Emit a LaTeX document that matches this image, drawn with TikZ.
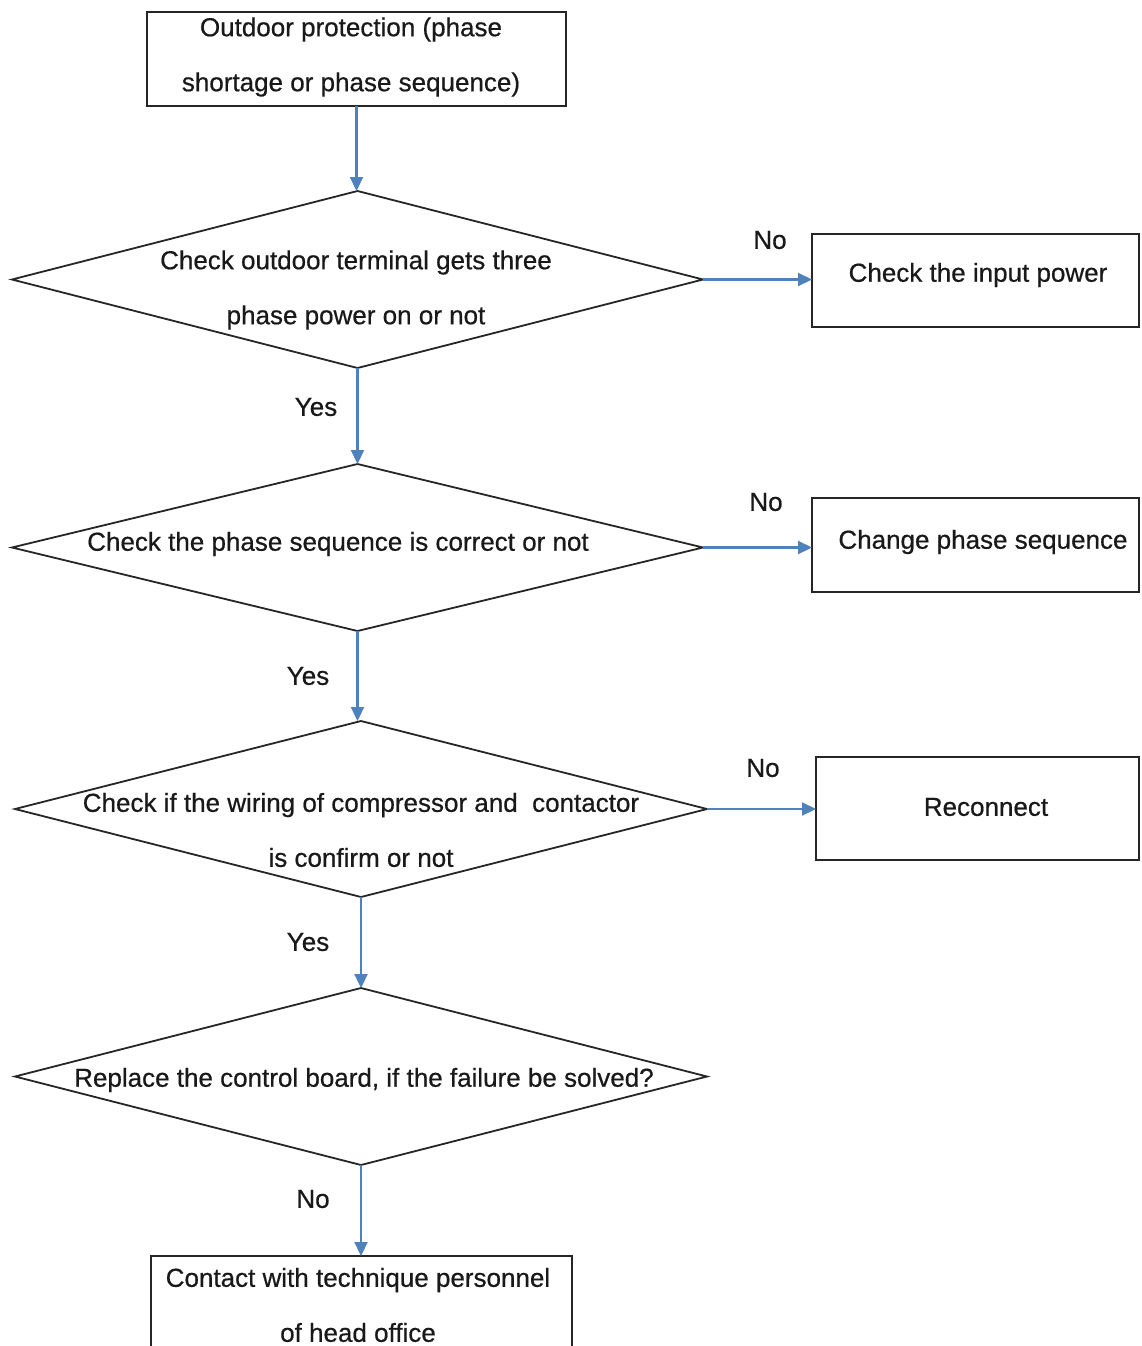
\documentclass[tikz,border=0pt]{standalone}
\usepackage{fontspec}
\setmainfont[FakeBold=0.6]{Liberation Sans}
\usetikzlibrary{shapes.geometric,arrows.meta}
\definecolor{flowblue}{RGB}{79,129,189}
\tikzset{
  every node/.style={font=\fontsize{26}{55}\selectfont},
  procbox/.style={draw=black!85, line width=1.8pt, rectangle, inner sep=0pt, outer sep=0pt},
  decision/.style={draw=black!85, line width=1.8pt, diamond, inner sep=0pt, outer sep=0pt},
  txt/.style={align=center, inner sep=0pt, text=black!90},
  flow/.style={draw=flowblue, line width=2.2pt, -{Triangle[length=14pt,width=13pt]}},
  answer/.style={inner sep=0pt, text=black!90}
}
\begin{document}
\begin{tikzpicture}[x=1pt,y=-1pt]
\useasboundingbox (0,0) rectangle (1141,1346);
\clip (0,0) rectangle (1141,1346);
\fill[white] (0,0) rectangle (1141,1346);

% process boxes
\node[procbox, minimum width=419pt, minimum height=94pt] (start) at (356.5,59) {};
\node[procbox, minimum width=327pt, minimum height=93pt] (power) at (975.5,280.5) {};
\node[procbox, minimum width=327pt, minimum height=94pt] (seq) at (975.5,545) {};
\node[procbox, minimum width=323pt, minimum height=103pt] (recon) at (977.5,808.5) {};
\node[procbox, minimum width=421pt, minimum height=110pt] (contact) at (361.5,1311) {};

% decisions
\node[decision, minimum width=691pt, minimum height=177pt] (d1) at (357.5,279.5) {};
\node[decision, minimum width=691pt, minimum height=167pt] (d2) at (357.5,547.5) {};
\node[decision, minimum width=692pt, minimum height=176pt] (d3) at (361,809) {};
\node[decision, minimum width=692pt, minimum height=177pt] (d4) at (361,1076.5) {};

% texts
\node[txt] at (351,57) {Outdoor protection (phase\\shortage or phase sequence)};
\node[txt] at (978,275) {Check the input power};
\node[txt] at (983,542) {Change phase sequence};
\node[txt] at (986,807) {Reconnect};
\node[txt] at (356,290) {Check outdoor terminal gets three\\phase power on or not};
\node[txt] at (338,544) {Check the phase sequence is correct or not};
\node[txt] at (361,830) {Check if the wiring of compressor and\ \ contactor\\is confirm or not};
\node[txt] at (364,1080) {Replace the control board, if the failure be solved?};
\node[txt] at (358,1305) {Contact with technique personnel\\of head office};

% connectors
\draw[flow] (start.south) -- (start.south |- d1.north);
\draw[flow] (d1.south) -- (d1.south |- d2.north);
\draw[flow] (d2.south) -- (d2.south |- d3.north);
\draw[flow] (d3.south) -- (d3.south |- d4.north);
\draw[flow] (d4.south) -- (d4.south |- contact.north);
\draw[flow] (d1.east) -- (d1.east -| power.west);
\draw[flow] (d2.east) -- (d2.east -| seq.west);
\draw[flow] (d3.east) -- (d3.east -| recon.west);

% answer labels
\node[answer] at (770,240) {No};
\node[answer] at (766,502) {No};
\node[answer] at (763,768) {No};
\node[answer] at (313,1199) {No};
\node[answer] at (316,407) {Yes};
\node[answer] at (308,676) {Yes};
\node[answer] at (308,942) {Yes};
\end{tikzpicture}
\end{document}
